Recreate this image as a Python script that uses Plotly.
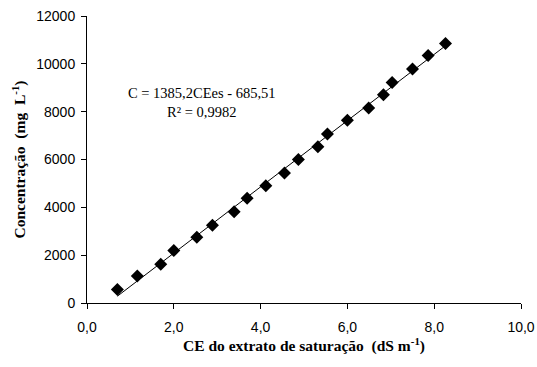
import plotly.graph_objects as go

ce = [0.70, 1.16, 1.70, 2.00, 2.53, 2.89, 3.39, 3.69, 4.12, 4.55,
      4.87, 5.32, 5.54, 6.00, 6.49, 6.83, 7.03, 7.50, 7.86, 8.26]
conc = [560, 1130, 1620, 2190, 2750, 3250, 3820, 4380, 4900, 5440,
        6000, 6530, 7070, 7640, 8150, 8710, 9220, 9780, 10350, 10850]
slope = 1385.2
intercept = -685.51
x_ticks = [0, 2, 4, 6, 8, 10]
x_tick_labels = ["0,0", "2,0", "4,0", "6,0", "8,0", "10,0"]
y_ticks = [0, 2000, 4000, 6000, 8000, 10000, 12000]
y_tick_labels = ["0", "2000", "4000", "6000", "8000", "10000", "12000"]

line_x = [min(ce), max(ce)]
line_y = [slope * v + intercept for v in line_x]

fig = go.Figure()
fig.add_trace(go.Scatter(x=line_x, y=line_y, mode="lines",
                         line=dict(color="black", width=1), showlegend=False,
                         hoverinfo="skip"))
fig.add_trace(go.Scatter(x=ce, y=conc, mode="markers",
                         marker=dict(symbol="diamond", color="black", size=10),
                         showlegend=False))

fig.add_annotation(x=2.65, y=8380, xref="x", yref="y",
                   text="C = 1385,2CEes - 685,51<br>R² = 0,9982",
                   showarrow=False, align="center",
                   font=dict(family="Liberation Serif", size=14.5, color="black"))

axis_common = dict(showgrid=False, zeroline=False, showline=True, linecolor="black",
                   linewidth=1, ticks="outside", ticklen=5, tickcolor="black",
                   automargin=False, ticklabeloverflow="allow",
                   tickfont=dict(family="Liberation Sans", size=14, color="black"))

fig.update_xaxes(range=[0, 10], tickvals=x_ticks, ticktext=x_tick_labels,
                 ticklabelstandoff=6,
                 title=dict(text="<b>CE do extrato de saturação  (dS m<sup>-1</sup>)</b>",
                            font=dict(family="Liberation Serif", size=15.5, color="black"),
                            standoff=3),
                 **axis_common)
fig.update_yaxes(range=[0, 12000], tickvals=y_ticks, ticktext=y_tick_labels,
                 ticklabelstandoff=3,
                 title=dict(text="<b>Concentração  (mg  L<sup>-1</sup>)</b>",
                            font=dict(family="Liberation Serif", size=15.5, color="black"),
                            standoff=6),
                 **axis_common)

fig.update_layout(width=537, height=367, plot_bgcolor="white", paper_bgcolor="white",
                  margin=dict(l=87, r=16, t=16, b=64, autoexpand=False))

fig.write_html("out.html", config={"displayModeBar": False},
               post_script="document.body.style.margin='0';"
                           "document.documentElement.style.overflow='hidden';")
